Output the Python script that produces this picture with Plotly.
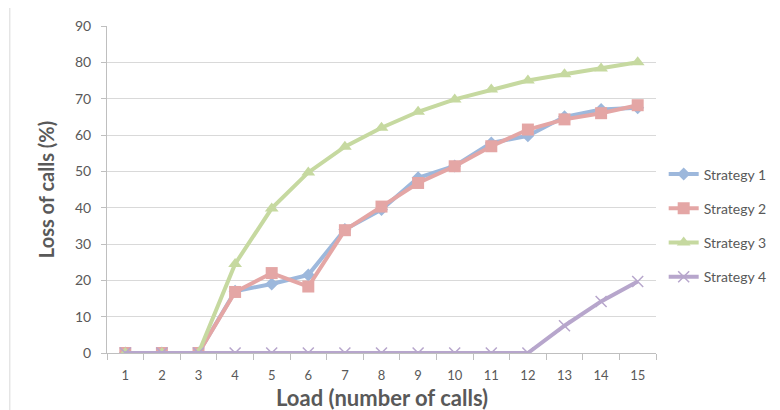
import plotly.graph_objects as go

load = [str(i) for i in range(1, 16)]
strategy1 = [0, 0, 0, 17, 19, 21.5, 34, 39.5, 48.2, 51.5, 57.8, 59.8, 65, 67, 67.5]
strategy2 = [0, 0, 0, 16.8, 22, 18.3, 33.8, 40.3, 46.8, 51.4, 56.9, 61.5, 64.3, 66, 68.2]
strategy3 = [0, 0, 0, 24.5, 39.8, 49.7, 56.8, 62, 66.4, 69.8, 72.5, 75, 76.7, 78.3, 80]
strategy4 = [0, 0, 0, 0, 0, 0, 0, 0, 0, 0, 0, 0, 7.5, 14.2, 19.7]

names = ['Strategy 1', 'Strategy 2', 'Strategy 3', 'Strategy 4']
colors = ['#9DB8DC', '#E4A6A5', '#C6D9A0', '#B7A6CC']
symbols = ['diamond', 'square', 'triangle-up', 'x-thin']
sizes = [10, 12, 12, 11]

fig = go.Figure()
for i, ys in enumerate([strategy1, strategy2, strategy3, strategy4]):
    mk = dict(symbol=symbols[i], size=sizes[i], color=colors[i])
    if symbols[i] == 'x-thin':
        mk['line'] = dict(color=colors[i], width=1.5)
    fig.add_trace(go.Scatter(
        x=load, y=ys, name=names[i], mode='lines+markers',
        line=dict(color=colors[i], width=4), marker=mk,
        legendgroup=names[i],
    ))

tick_font = dict(family='Lato, sans-serif', size=14, color='#595959')
fig.update_layout(
    width=780, height=410,
    # page body has an 8px margin, so the plot box is shifted back by 8px
    margin=dict(l=99, r=132, t=18, b=65, autoexpand=False),
    paper_bgcolor='white', plot_bgcolor='white',
    font=dict(family='Lato, sans-serif', color='#595959'),
    showlegend=True,
    legend=dict(x=1.014, y=0.39, xanchor='left', yanchor='middle',
                font=dict(size=14, color='#595959'), tracegroupgap=13,
                bgcolor='rgba(0,0,0,0)'),
    xaxis=dict(type='category', range=[-0.5, 14.5], tickson='boundaries', ticks='outside', ticklen=6,
               tickcolor='#BFBFBF', showline=True, linecolor='#BFBFBF', linewidth=1,
               showgrid=False, tickfont=dict(tick_font, size=13), automargin=False, ticklabelstandoff=10),
    yaxis=dict(range=[0, 90], dtick=10, ticks='outside', ticklen=5, tickcolor='#BFBFBF',
               showline=True, linecolor='#BFBFBF', linewidth=1, gridcolor='#D9D9D9',
               zeroline=False, tickfont=tick_font, automargin=False, ticklabelstandoff=7,
               title=dict(text='<b>Loss of calls (%)</b>', font=dict(size=20, color='#595959'), standoff=14)),
    annotations=[dict(text='<b>Load (number of calls)</b>', xref='paper', yref='paper',
                      x=0.5, y=-44 / 327, xanchor='center', yanchor='middle', showarrow=False,
                      font=dict(size=22, color='#595959'))],
    shapes=[dict(type='rect', xref='paper', yref='paper', x0=-0.177, x1=1.6, y0=-0.4, y1=1.058,
                 line=dict(color='#D9D9D9', width=1), fillcolor='rgba(0,0,0,0)', layer='below')],
)

fig.write_html('out.html')
